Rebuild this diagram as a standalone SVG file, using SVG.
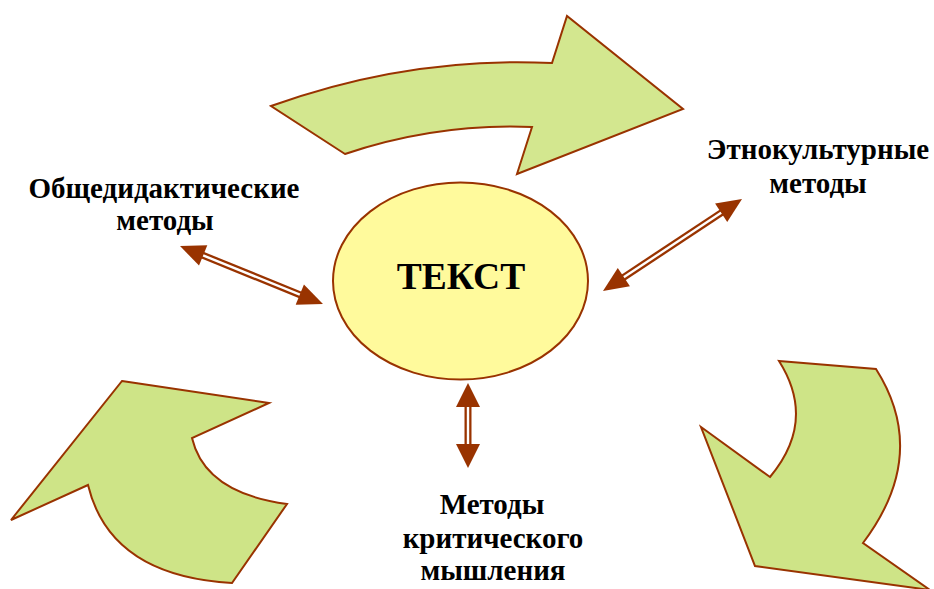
<svg xmlns="http://www.w3.org/2000/svg" width="934" height="589" viewBox="0 0 934 589">
  <defs>
    <style>
      .band { fill: #D3E78F; stroke: #993300; stroke-width: 2; stroke-linejoin: miter; }
      .band2 { fill: #CEE487; stroke: #993300; stroke-width: 2; stroke-linejoin: miter; }
      .center { fill: #FFFA9C; stroke: #993300; stroke-width: 2; }
      .shaft { stroke: #993300; stroke-width: 7; fill: none; }
      .core { stroke: #FFFFFF; stroke-width: 2.4; fill: none; }
      .head { fill: #993300; }
      .label { font-family: "Liberation Serif", "Times New Roman", serif; font-weight: bold; font-size: 29px; fill: #000; text-anchor: middle; }
      .title { font-family: "Liberation Serif", "Times New Roman", serif; font-weight: bold; font-size: 37.5px; fill: #000; text-anchor: middle; }
    </style>
  </defs>

  <!-- curved block arrows around the centre -->
  <g id="arrow-top">
    <path class="band" d="M271,106 Q410,56 552,63 L567,16 L683,109 L517,174 L532,127 Q437,123 345,154 Z"/>
  </g>
  <g id="arrow-bottom-left">
    <path class="band2" d="M122,381 L269,403 L192,438 Q205,493 287,504 L232,583 Q110,576 88,485 L11,520 Z"/>
  </g>
  <g id="arrow-bottom-right">
    <path class="band2" d="M779,361 L876,369 Q930,454 863,543 L930,590 L755,566 L701,427 L770,477 Q817,421 779,361 Z"/>
  </g>

  <!-- central node -->
  <g id="node-text">
    <ellipse class="center" cx="460.5" cy="281" rx="127.5" ry="98.5"/>
    <text class="title" x="461" y="289">ТЕКСТ</text>
  </g>

  <!-- method labels -->
  <g id="node-general">
    <text class="label" x="164" y="198">Общедидактические</text>
    <text class="label" x="165" y="230">методы</text>
  </g>
  <g id="node-ethno">
    <text class="label" x="818" y="159">Этнокультурные</text>
    <text class="label" x="818" y="193">методы</text>
  </g>
  <g id="node-critical">
    <text class="label" x="492" y="514">Методы</text>
    <text class="label" x="493" y="548">критического</text>
    <text class="label" x="493" y="580">мышления</text>
  </g>

  <!-- double-headed hollow connectors -->
  <g id="connectors">
    <g transform="translate(180,246) rotate(22.1)">
      <line class="shaft" x1="18" y1="0" x2="136" y2="0"/>
      <line class="core" x1="18" y1="0" x2="136" y2="0"/>
      <polygon class="head" points="0,0 25,-11 25,11"/>
      <polygon class="head" points="154.3,0 129.3,-11 129.3,11"/>
    </g>
    <g transform="translate(603,291) rotate(-33.5)">
      <line class="shaft" x1="18" y1="0" x2="148" y2="0"/>
      <line class="core" x1="18" y1="0" x2="148" y2="0"/>
      <polygon class="head" points="0,0 25,-11 25,11"/>
      <polygon class="head" points="166.7,0 141.7,-11 141.7,11"/>
    </g>
    <g transform="translate(468,383) rotate(90)">
      <line class="shaft" x1="18" y1="0" x2="67" y2="0"/>
      <line class="core" x1="18" y1="0" x2="67" y2="0"/>
      <polygon class="head" points="0,0 24,-12 24,12"/>
      <polygon class="head" points="85,0 61,-12 61,12"/>
    </g>
  </g>
</svg>
